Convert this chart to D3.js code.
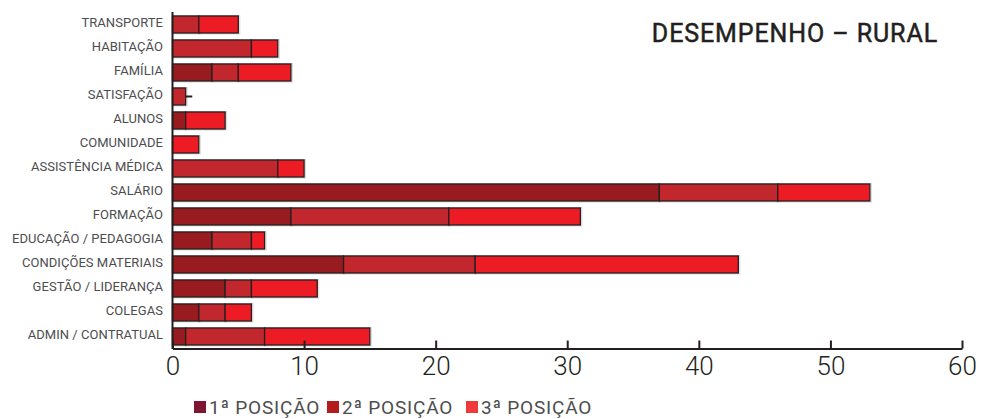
<!DOCTYPE html>
<html><head><meta charset="utf-8">
<script src="https://cdn.jsdelivr.net/npm/d3@7"></script>
<style>body{margin:0;background:#fff}svg{display:block}</style>
</head><body>
<svg id="c" width="981" height="419"></svg>
<script>
const categories = ["TRANSPORTE","HABITAÇÃO","FAMÍLIA","SATISFAÇÃO","ALUNOS","COMUNIDADE","ASSISTÊNCIA MÉDICA","SALÁRIO","FORMAÇÃO","EDUCAÇÃO / PEDAGOGIA","CONDIÇÕES MATERIAIS","GESTÃO / LIDERANÇA","COLEGAS","ADMIN / CONTRATUAL"];
const pos1 = [0,0,3,0,1,0,0,37,9,3,13,4,2,1];
const pos2 = [2,6,2,1,0,0,8,9,12,3,10,2,2,6];
const pos3 = [3,2,4,0,3,2,2,7,10,1,20,5,2,8];
const seriesNames = ["1ª POSIÇÃO","2ª POSIÇÃO","3ª POSIÇÃO"];
const xTicks = [0,10,20,30,40,50,60];
const whisker = {category:"SATISFAÇÃO", from:1, to:1.5};
const title = "DESEMPENHO – RURAL";

const barColors = ["#981b20","#c1272d","#ed1c24"];
const legendColors = ["#7f1734","#b31c1c","#ee3a3a"];

const svg = d3.select("#c");
const x = d3.scaleLinear().domain([0,60]).range([172.5,962]);
const y = d3.scaleBand().domain(categories).range([12.5,348.5]).paddingInner(0.29).paddingOuter(0.145);

const rows = categories.map((c,i)=>({cat:c, vals:[pos1[i],pos2[i],pos3[i]]}));
const segs = [];
rows.forEach(r=>{let s=0; r.vals.forEach((v,k)=>{ if(v>0) segs.push({cat:r.cat,x0:s,x1:s+v,k}); s+=v;});});

// shadow
svg.append("g").selectAll("rect").data(segs).join("rect")
  .attr("x",d=>x(d.x0)).attr("y",d=>y(d.cat)-0.5)
  .attr("width",d=>x(d.x1)-x(d.x0)+1.5).attr("height",y.bandwidth()+1.5)
  .attr("fill","none").attr("stroke","#d8d8d8").attr("stroke-width",1);

svg.append("g").selectAll("rect").data(segs).join("rect")
  .attr("x",d=>x(d.x0)).attr("y",d=>y(d.cat))
  .attr("width",d=>x(d.x1)-x(d.x0)).attr("height",y.bandwidth())
  .attr("fill",d=>barColors[d.k]).attr("stroke","#231f20").attr("stroke-width",1.3);

// whisker
svg.append("line")
  .attr("x1",x(whisker.from)).attr("x2",x(whisker.to))
  .attr("y1",y(whisker.category)+y.bandwidth()/2).attr("y2",y(whisker.category)+y.bandwidth()/2)
  .attr("stroke","#231f20").attr("stroke-width",2);

// y axis line
svg.append("line").attr("x1",x(0)).attr("x2",x(0)).attr("y1",12).attr("y2",349)
  .attr("stroke","#231f20").attr("stroke-width",2);

// category labels
svg.append("g").selectAll("text").data(categories).join("text")
  .attr("x",163).attr("y",d=>y(d)+y.bandwidth()/2-2)
  .attr("dy","0.36em").attr("text-anchor","end")
  .attr("font-family","Roboto, 'DejaVu Sans', sans-serif").attr("font-size",13)
  .attr("letter-spacing",0.05)
  .attr("fill","#4d4d4f").text(d=>d);

// x axis
const xa = svg.append("g").attr("transform","translate(0,348.5)")
  .call(d3.axisBottom(x).tickValues(xTicks).tickSize(-8).tickPadding(14).tickSizeOuter(0));
xa.select(".domain").attr("stroke","#231f20").attr("stroke-width",2);
xa.selectAll(".tick line").attr("stroke","#231f20").attr("stroke-width",2);
xa.selectAll(".tick text").attr("font-family","Roboto, 'DejaVu Sans', sans-serif")
  .attr("font-size",26).attr("font-weight",300).attr("fill","#231f20").attr("dy","0.75em").attr("y",7);

// title
svg.append("text").attr("x",938).attr("y",42).attr("text-anchor","end")
  .attr("font-family","Roboto, 'DejaVu Sans', sans-serif").attr("font-size",25).attr("font-weight",400)
  .attr("fill","#231f20").attr("stroke","#231f20").attr("stroke-width",0.5)
  .attr("letter-spacing",0.9).text(title);

// legend
const legX = [194,327,466];
const lg = svg.append("g").selectAll("g").data(seriesNames).join("g")
  .attr("transform",(d,i)=>`translate(${legX[i]},401)`);
lg.append("rect").attr("width",12).attr("height",12).attr("fill",(d,i)=>legendColors[i]);
lg.append("text").attr("x",15).attr("y",6).attr("dy","0.36em")
  .attr("font-family","Roboto, 'DejaVu Sans', sans-serif").attr("font-size",19)
  .attr("letter-spacing",0.8).attr("fill","#4d4d4f").text(d=>d);
</script>
</body></html>
